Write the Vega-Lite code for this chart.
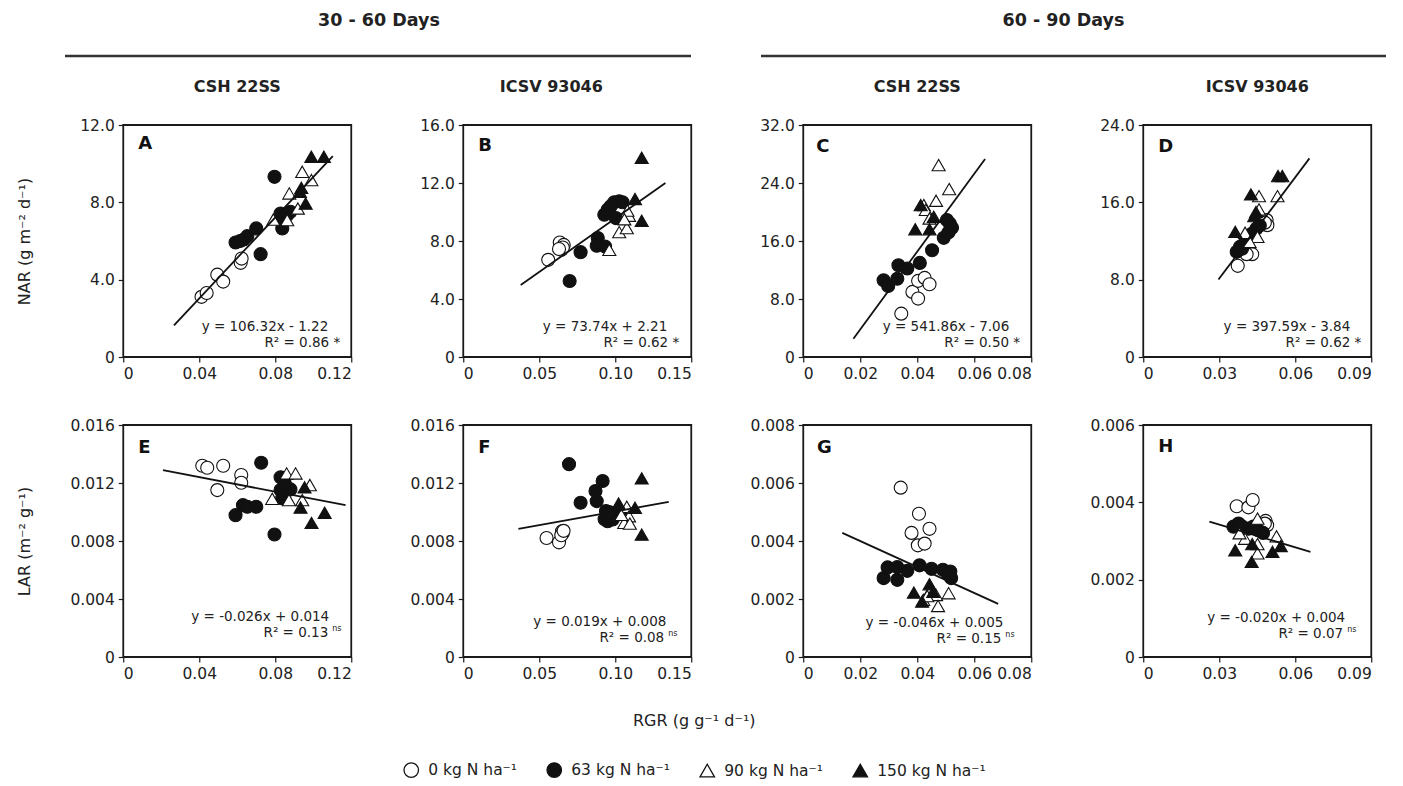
{
"$schema": "https://vega.github.io/schema/vega-lite/v6.json",
"padding": {"left": 15, "top": 12, "right": 5, "bottom": 5},
"config": {
  "font": "DejaVu Sans",
  "view": {"stroke": "#1a1a1a", "strokeWidth": 1.8},
  "axis": {"domain": false, "grid": false, "ticks": true, "tickSize": 5, "tickColor": "#1a1a1a", "tickWidth": 1.2, "labelFont": "DejaVu Sans", "labelFontSize": 15.5, "labelColor": "#222222", "labelPadding": 4, "titleFont": "DejaVu Sans", "titleFontSize": 16, "titleFontWeight": "normal", "titleColor": "#222222"},
  "title": {"font": "DejaVu Sans", "fontSize": 16, "fontWeight": "bold", "color": "#222222", "offset": 23, "anchor": "middle", "frame": "group"},
  "legend": {"orient": "bottom", "direction": "horizontal", "labelFont": "DejaVu Sans", "labelFontSize": 15.5, "labelColor": "#222222", "symbolSize": 210, "symbolStrokeWidth": 1.3, "columnPadding": 27, "labelOffset": 9, "offset": 30, "titleFont": "DejaVu Sans", "titleFontSize": 16, "titleFontWeight": "normal", "titleColor": "#222222", "titleAnchor": "middle", "titlePadding": 33, "titleLimit": 0, "layout": {"bottom": {"anchor": "middle"}}}
},
"datasets": {
  "pts": [
    {"p":"A","rgr":0.0412,"val":3.11,"N":"0 kg N ha⁻¹"},{"p":"A","rgr":0.0439,"val":3.31,"N":"0 kg N ha⁻¹"},{"p":"A","rgr":0.0495,"val":4.26,"N":"0 kg N ha⁻¹"},{"p":"A","rgr":0.0526,"val":3.90,"N":"0 kg N ha⁻¹"},{"p":"A","rgr":0.0618,"val":4.87,"N":"0 kg N ha⁻¹"},{"p":"A","rgr":0.0623,"val":5.09,"N":"0 kg N ha⁻¹"},
    {"p":"A","rgr":0.0796,"val":9.32,"N":"63 kg N ha⁻¹"},{"p":"A","rgr":0.0591,"val":5.92,"N":"63 kg N ha⁻¹"},{"p":"A","rgr":0.0635,"val":6.08,"N":"63 kg N ha⁻¹"},{"p":"A","rgr":0.0653,"val":6.25,"N":"63 kg N ha⁻¹"},{"p":"A","rgr":0.0700,"val":6.65,"N":"63 kg N ha⁻¹"},{"p":"A","rgr":0.0723,"val":5.32,"N":"63 kg N ha⁻¹"},{"p":"A","rgr":0.0828,"val":7.42,"N":"63 kg N ha⁻¹"},{"p":"A","rgr":0.0842,"val":7.17,"N":"63 kg N ha⁻¹"},{"p":"A","rgr":0.0837,"val":6.65,"N":"63 kg N ha⁻¹"},{"p":"A","rgr":0.0863,"val":7.34,"N":"63 kg N ha⁻¹"},{"p":"A","rgr":0.0880,"val":7.51,"N":"63 kg N ha⁻¹"},{"p":"A","rgr":0.0615,"val":6.00,"N":"63 kg N ha⁻¹"},
    {"p":"A","rgr":0.0942,"val":9.58,"N":"90 kg N ha⁻¹"},{"p":"A","rgr":0.0990,"val":9.15,"N":"90 kg N ha⁻¹"},{"p":"A","rgr":0.0874,"val":8.46,"N":"90 kg N ha⁻¹"},{"p":"A","rgr":0.0790,"val":7.11,"N":"90 kg N ha⁻¹"},{"p":"A","rgr":0.0919,"val":7.68,"N":"90 kg N ha⁻¹"},{"p":"A","rgr":0.0863,"val":7.08,"N":"90 kg N ha⁻¹"},
    {"p":"A","rgr":0.0990,"val":10.36,"N":"150 kg N ha⁻¹"},{"p":"A","rgr":0.1056,"val":10.36,"N":"150 kg N ha⁻¹"},{"p":"A","rgr":0.0937,"val":8.75,"N":"150 kg N ha⁻¹"},{"p":"A","rgr":0.0960,"val":7.94,"N":"150 kg N ha⁻¹"},{"p":"A","rgr":0.0930,"val":8.55,"N":"150 kg N ha⁻¹"},

    {"p":"B","rgr":0.0559,"val":6.70,"N":"0 kg N ha⁻¹"},{"p":"B","rgr":0.0635,"val":7.90,"N":"0 kg N ha⁻¹"},{"p":"B","rgr":0.0661,"val":7.73,"N":"0 kg N ha⁻¹"},{"p":"B","rgr":0.0646,"val":7.39,"N":"0 kg N ha⁻¹"},{"p":"B","rgr":0.0655,"val":7.55,"N":"0 kg N ha⁻¹"},{"p":"B","rgr":0.0630,"val":7.45,"N":"0 kg N ha⁻¹"},
    {"p":"B","rgr":0.0700,"val":5.24,"N":"63 kg N ha⁻¹"},{"p":"B","rgr":0.0772,"val":7.23,"N":"63 kg N ha⁻¹"},{"p":"B","rgr":0.0885,"val":8.20,"N":"63 kg N ha⁻¹"},{"p":"B","rgr":0.0878,"val":7.67,"N":"63 kg N ha⁻¹"},{"p":"B","rgr":0.0933,"val":7.62,"N":"63 kg N ha⁻¹"},{"p":"B","rgr":0.0928,"val":9.81,"N":"63 kg N ha⁻¹"},{"p":"B","rgr":0.0950,"val":10.16,"N":"63 kg N ha⁻¹"},{"p":"B","rgr":0.0993,"val":10.67,"N":"63 kg N ha⁻¹"},{"p":"B","rgr":0.1026,"val":10.74,"N":"63 kg N ha⁻¹"},{"p":"B","rgr":0.1048,"val":10.67,"N":"63 kg N ha⁻¹"},{"p":"B","rgr":0.1004,"val":9.58,"N":"63 kg N ha⁻¹"},{"p":"B","rgr":0.0970,"val":10.40,"N":"63 kg N ha⁻¹"},
    {"p":"B","rgr":0.0961,"val":7.39,"N":"90 kg N ha⁻¹"},{"p":"B","rgr":0.1026,"val":8.61,"N":"90 kg N ha⁻¹"},{"p":"B","rgr":0.1076,"val":8.89,"N":"90 kg N ha⁻¹"},{"p":"B","rgr":0.1091,"val":9.74,"N":"90 kg N ha⁻¹"},{"p":"B","rgr":0.1080,"val":10.10,"N":"90 kg N ha⁻¹"},{"p":"B","rgr":0.1060,"val":9.50,"N":"90 kg N ha⁻¹"},
    {"p":"B","rgr":0.1174,"val":13.74,"N":"150 kg N ha⁻¹"},{"p":"B","rgr":0.1130,"val":10.90,"N":"150 kg N ha⁻¹"},{"p":"B","rgr":0.1174,"val":9.40,"N":"150 kg N ha⁻¹"},

    {"p":"C","rgr":0.0344,"val":5.98,"N":"0 kg N ha⁻¹"},{"p":"C","rgr":0.0383,"val":8.98,"N":"0 kg N ha⁻¹"},{"p":"C","rgr":0.0403,"val":8.06,"N":"0 kg N ha⁻¹"},{"p":"C","rgr":0.0403,"val":10.50,"N":"0 kg N ha⁻¹"},{"p":"C","rgr":0.0426,"val":10.91,"N":"0 kg N ha⁻¹"},{"p":"C","rgr":0.0443,"val":10.04,"N":"0 kg N ha⁻¹"},
    {"p":"C","rgr":0.0282,"val":10.59,"N":"63 kg N ha⁻¹"},{"p":"C","rgr":0.0298,"val":9.80,"N":"63 kg N ha⁻¹"},{"p":"C","rgr":0.0330,"val":10.80,"N":"63 kg N ha⁻¹"},{"p":"C","rgr":0.0334,"val":12.66,"N":"63 kg N ha⁻¹"},{"p":"C","rgr":0.0365,"val":12.20,"N":"63 kg N ha⁻¹"},{"p":"C","rgr":0.0409,"val":12.98,"N":"63 kg N ha⁻¹"},{"p":"C","rgr":0.0452,"val":14.73,"N":"63 kg N ha⁻¹"},{"p":"C","rgr":0.0493,"val":16.44,"N":"63 kg N ha⁻¹"},{"p":"C","rgr":0.0514,"val":18.42,"N":"63 kg N ha⁻¹"},{"p":"C","rgr":0.0522,"val":17.82,"N":"63 kg N ha⁻¹"},{"p":"C","rgr":0.0504,"val":18.88,"N":"63 kg N ha⁻¹"},{"p":"C","rgr":0.0510,"val":17.20,"N":"63 kg N ha⁻¹"},
    {"p":"C","rgr":0.0475,"val":26.47,"N":"90 kg N ha⁻¹"},{"p":"C","rgr":0.0512,"val":23.16,"N":"90 kg N ha⁻¹"},{"p":"C","rgr":0.0466,"val":21.55,"N":"90 kg N ha⁻¹"},{"p":"C","rgr":0.0423,"val":20.95,"N":"90 kg N ha⁻¹"},{"p":"C","rgr":0.0430,"val":20.30,"N":"90 kg N ha⁻¹"},{"p":"C","rgr":0.0443,"val":19.10,"N":"90 kg N ha⁻¹"},
    {"p":"C","rgr":0.0412,"val":20.95,"N":"150 kg N ha⁻¹"},{"p":"C","rgr":0.0393,"val":17.63,"N":"150 kg N ha⁻¹"},{"p":"C","rgr":0.0443,"val":17.63,"N":"150 kg N ha⁻¹"},{"p":"C","rgr":0.0458,"val":19.34,"N":"150 kg N ha⁻¹"},

    {"p":"D","rgr":0.0373,"val":9.43,"N":"0 kg N ha⁻¹"},{"p":"D","rgr":0.0430,"val":10.64,"N":"0 kg N ha⁻¹"},{"p":"D","rgr":0.0408,"val":10.64,"N":"0 kg N ha⁻¹"},{"p":"D","rgr":0.0487,"val":14.16,"N":"0 kg N ha⁻¹"},{"p":"D","rgr":0.0490,"val":13.64,"N":"0 kg N ha⁻¹"},{"p":"D","rgr":0.0480,"val":13.90,"N":"0 kg N ha⁻¹"},
    {"p":"D","rgr":0.0369,"val":10.88,"N":"63 kg N ha⁻¹"},{"p":"D","rgr":0.0382,"val":11.40,"N":"63 kg N ha⁻¹"},{"p":"D","rgr":0.0399,"val":11.74,"N":"63 kg N ha⁻¹"},{"p":"D","rgr":0.0415,"val":12.26,"N":"63 kg N ha⁻¹"},{"p":"D","rgr":0.0430,"val":12.78,"N":"63 kg N ha⁻¹"},{"p":"D","rgr":0.0447,"val":13.29,"N":"63 kg N ha⁻¹"},{"p":"D","rgr":0.0460,"val":13.60,"N":"63 kg N ha⁻¹"},{"p":"D","rgr":0.0390,"val":11.20,"N":"63 kg N ha⁻¹"},
    {"p":"D","rgr":0.0457,"val":16.64,"N":"90 kg N ha⁻¹"},{"p":"D","rgr":0.0530,"val":16.64,"N":"90 kg N ha⁻¹"},{"p":"D","rgr":0.0457,"val":15.26,"N":"90 kg N ha⁻¹"},{"p":"D","rgr":0.0402,"val":12.85,"N":"90 kg N ha⁻¹"},{"p":"D","rgr":0.0451,"val":12.43,"N":"90 kg N ha⁻¹"},{"p":"D","rgr":0.0420,"val":11.90,"N":"90 kg N ha⁻¹"},
    {"p":"D","rgr":0.0532,"val":18.72,"N":"150 kg N ha⁻¹"},{"p":"D","rgr":0.0549,"val":18.72,"N":"150 kg N ha⁻¹"},{"p":"D","rgr":0.0425,"val":16.82,"N":"150 kg N ha⁻¹"},{"p":"D","rgr":0.0438,"val":14.57,"N":"150 kg N ha⁻¹"},{"p":"D","rgr":0.0363,"val":12.95,"N":"150 kg N ha⁻¹"},{"p":"D","rgr":0.0445,"val":15.00,"N":"150 kg N ha⁻¹"},

    {"p":"E","rgr":0.0416,"val":0.01319,"N":"0 kg N ha⁻¹"},{"p":"E","rgr":0.0442,"val":0.01305,"N":"0 kg N ha⁻¹"},{"p":"E","rgr":0.0526,"val":0.01319,"N":"0 kg N ha⁻¹"},{"p":"E","rgr":0.0495,"val":0.01151,"N":"0 kg N ha⁻¹"},{"p":"E","rgr":0.0621,"val":0.01255,"N":"0 kg N ha⁻¹"},{"p":"E","rgr":0.0621,"val":0.01202,"N":"0 kg N ha⁻¹"},
    {"p":"E","rgr":0.0726,"val":0.01340,"N":"63 kg N ha⁻¹"},{"p":"E","rgr":0.0591,"val":0.00978,"N":"63 kg N ha⁻¹"},{"p":"E","rgr":0.0630,"val":0.01047,"N":"63 kg N ha⁻¹"},{"p":"E","rgr":0.0653,"val":0.01036,"N":"63 kg N ha⁻¹"},{"p":"E","rgr":0.0700,"val":0.01036,"N":"63 kg N ha⁻¹"},{"p":"E","rgr":0.0796,"val":0.00845,"N":"63 kg N ha⁻¹"},{"p":"E","rgr":0.0828,"val":0.01239,"N":"63 kg N ha⁻¹"},{"p":"E","rgr":0.0828,"val":0.01151,"N":"63 kg N ha⁻¹"},{"p":"E","rgr":0.0837,"val":0.01094,"N":"63 kg N ha⁻¹"},{"p":"E","rgr":0.0880,"val":0.01156,"N":"63 kg N ha⁻¹"},{"p":"E","rgr":0.0850,"val":0.01200,"N":"63 kg N ha⁻¹"},
    {"p":"E","rgr":0.0860,"val":0.01266,"N":"90 kg N ha⁻¹"},{"p":"E","rgr":0.0907,"val":0.01266,"N":"90 kg N ha⁻¹"},{"p":"E","rgr":0.0784,"val":0.01091,"N":"90 kg N ha⁻¹"},{"p":"E","rgr":0.0872,"val":0.01082,"N":"90 kg N ha⁻¹"},{"p":"E","rgr":0.0942,"val":0.01082,"N":"90 kg N ha⁻¹"},{"p":"E","rgr":0.0982,"val":0.01186,"N":"90 kg N ha⁻¹"},
    {"p":"E","rgr":0.0954,"val":0.01170,"N":"150 kg N ha⁻¹"},{"p":"E","rgr":0.1060,"val":0.00995,"N":"150 kg N ha⁻¹"},{"p":"E","rgr":0.0991,"val":0.00925,"N":"150 kg N ha⁻¹"},{"p":"E","rgr":0.0933,"val":0.01031,"N":"150 kg N ha⁻¹"},

    {"p":"F","rgr":0.0548,"val":0.00821,"N":"0 kg N ha⁻¹"},{"p":"F","rgr":0.0630,"val":0.00791,"N":"0 kg N ha⁻¹"},{"p":"F","rgr":0.0650,"val":0.00867,"N":"0 kg N ha⁻¹"},{"p":"F","rgr":0.0655,"val":0.00855,"N":"0 kg N ha⁻¹"},{"p":"F","rgr":0.0645,"val":0.00840,"N":"0 kg N ha⁻¹"},{"p":"F","rgr":0.0660,"val":0.00870,"N":"0 kg N ha⁻¹"},
    {"p":"F","rgr":0.0696,"val":0.01330,"N":"63 kg N ha⁻¹"},{"p":"F","rgr":0.0772,"val":0.01064,"N":"63 kg N ha⁻¹"},{"p":"F","rgr":0.0870,"val":0.01145,"N":"63 kg N ha⁻¹"},{"p":"F","rgr":0.0878,"val":0.01075,"N":"63 kg N ha⁻¹"},{"p":"F","rgr":0.0917,"val":0.01214,"N":"63 kg N ha⁻¹"},{"p":"F","rgr":0.0939,"val":0.01006,"N":"63 kg N ha⁻¹"},{"p":"F","rgr":0.0950,"val":0.00936,"N":"63 kg N ha⁻¹"},{"p":"F","rgr":0.0983,"val":0.00948,"N":"63 kg N ha⁻¹"},{"p":"F","rgr":0.1015,"val":0.00983,"N":"63 kg N ha⁻¹"},{"p":"F","rgr":0.1048,"val":0.00994,"N":"63 kg N ha⁻¹"},{"p":"F","rgr":0.0930,"val":0.00950,"N":"63 kg N ha⁻¹"},{"p":"F","rgr":0.0960,"val":0.01000,"N":"63 kg N ha⁻¹"},
    {"p":"F","rgr":0.1076,"val":0.01036,"N":"90 kg N ha⁻¹"},{"p":"F","rgr":0.1091,"val":0.00971,"N":"90 kg N ha⁻¹"},{"p":"F","rgr":0.1059,"val":0.00925,"N":"90 kg N ha⁻¹"},{"p":"F","rgr":0.1096,"val":0.00920,"N":"90 kg N ha⁻¹"},{"p":"F","rgr":0.1040,"val":0.00980,"N":"90 kg N ha⁻¹"},
    {"p":"F","rgr":0.1174,"val":0.01232,"N":"150 kg N ha⁻¹"},{"p":"F","rgr":0.1022,"val":0.01059,"N":"150 kg N ha⁻¹"},{"p":"F","rgr":0.1130,"val":0.01029,"N":"150 kg N ha⁻¹"},{"p":"F","rgr":0.1174,"val":0.00844,"N":"150 kg N ha⁻¹"},

    {"p":"G","rgr":0.0342,"val":0.00584,"N":"0 kg N ha⁻¹"},{"p":"G","rgr":0.0406,"val":0.00494,"N":"0 kg N ha⁻¹"},{"p":"G","rgr":0.0380,"val":0.00428,"N":"0 kg N ha⁻¹"},{"p":"G","rgr":0.0443,"val":0.00442,"N":"0 kg N ha⁻¹"},{"p":"G","rgr":0.0402,"val":0.00385,"N":"0 kg N ha⁻¹"},{"p":"G","rgr":0.0426,"val":0.00391,"N":"0 kg N ha⁻¹"},
    {"p":"G","rgr":0.0282,"val":0.00272,"N":"63 kg N ha⁻¹"},{"p":"G","rgr":0.0296,"val":0.00309,"N":"63 kg N ha⁻¹"},{"p":"G","rgr":0.0330,"val":0.00266,"N":"63 kg N ha⁻¹"},{"p":"G","rgr":0.0330,"val":0.00310,"N":"63 kg N ha⁻¹"},{"p":"G","rgr":0.0365,"val":0.00297,"N":"63 kg N ha⁻¹"},{"p":"G","rgr":0.0408,"val":0.00316,"N":"63 kg N ha⁻¹"},{"p":"G","rgr":0.0450,"val":0.00304,"N":"63 kg N ha⁻¹"},{"p":"G","rgr":0.0490,"val":0.00301,"N":"63 kg N ha⁻¹"},{"p":"G","rgr":0.0516,"val":0.00295,"N":"63 kg N ha⁻¹"},{"p":"G","rgr":0.0519,"val":0.00272,"N":"63 kg N ha⁻¹"},{"p":"G","rgr":0.0508,"val":0.00285,"N":"63 kg N ha⁻¹"},
    {"p":"G","rgr":0.0421,"val":0.00197,"N":"90 kg N ha⁻¹"},{"p":"G","rgr":0.0446,"val":0.00231,"N":"90 kg N ha⁻¹"},{"p":"G","rgr":0.0466,"val":0.00214,"N":"90 kg N ha⁻¹"},{"p":"G","rgr":0.0473,"val":0.00176,"N":"90 kg N ha⁻¹"},{"p":"G","rgr":0.0510,"val":0.00220,"N":"90 kg N ha⁻¹"},{"p":"G","rgr":0.0435,"val":0.00210,"N":"90 kg N ha⁻¹"},
    {"p":"G","rgr":0.0388,"val":0.00222,"N":"150 kg N ha⁻¹"},{"p":"G","rgr":0.0443,"val":0.00251,"N":"150 kg N ha⁻¹"},{"p":"G","rgr":0.0417,"val":0.00191,"N":"150 kg N ha⁻¹"},{"p":"G","rgr":0.0456,"val":0.00225,"N":"150 kg N ha⁻¹"},

    {"p":"H","rgr":0.0369,"val":0.00390,"N":"0 kg N ha⁻¹"},{"p":"H","rgr":0.0415,"val":0.00387,"N":"0 kg N ha⁻¹"},{"p":"H","rgr":0.0432,"val":0.00406,"N":"0 kg N ha⁻¹"},{"p":"H","rgr":0.0483,"val":0.00352,"N":"0 kg N ha⁻¹"},{"p":"H","rgr":0.0489,"val":0.00341,"N":"0 kg N ha⁻¹"},{"p":"H","rgr":0.0480,"val":0.00345,"N":"0 kg N ha⁻¹"},
    {"p":"H","rgr":0.0356,"val":0.00337,"N":"63 kg N ha⁻¹"},{"p":"H","rgr":0.0376,"val":0.00345,"N":"63 kg N ha⁻¹"},{"p":"H","rgr":0.0395,"val":0.00335,"N":"63 kg N ha⁻¹"},{"p":"H","rgr":0.0415,"val":0.00332,"N":"63 kg N ha⁻¹"},{"p":"H","rgr":0.0434,"val":0.00337,"N":"63 kg N ha⁻¹"},{"p":"H","rgr":0.0454,"val":0.00328,"N":"63 kg N ha⁻¹"},{"p":"H","rgr":0.0473,"val":0.00321,"N":"63 kg N ha⁻¹"},{"p":"H","rgr":0.0385,"val":0.00340,"N":"63 kg N ha⁻¹"},
    {"p":"H","rgr":0.0451,"val":0.00358,"N":"90 kg N ha⁻¹"},{"p":"H","rgr":0.0402,"val":0.00306,"N":"90 kg N ha⁻¹"},{"p":"H","rgr":0.0451,"val":0.00292,"N":"90 kg N ha⁻¹"},{"p":"H","rgr":0.0451,"val":0.00268,"N":"90 kg N ha⁻¹"},{"p":"H","rgr":0.0526,"val":0.00312,"N":"90 kg N ha⁻¹"},{"p":"H","rgr":0.0380,"val":0.00320,"N":"90 kg N ha⁻¹"},
    {"p":"H","rgr":0.0363,"val":0.00276,"N":"150 kg N ha⁻¹"},{"p":"H","rgr":0.0430,"val":0.00292,"N":"150 kg N ha⁻¹"},{"p":"H","rgr":0.0428,"val":0.00246,"N":"150 kg N ha⁻¹"},{"p":"H","rgr":0.0510,"val":0.00272,"N":"150 kg N ha⁻¹"},{"p":"H","rgr":0.0543,"val":0.00287,"N":"150 kg N ha⁻¹"}
  ],
  "fits": [
    {"p":"A","rgr":0.0267,"val":1.64},{"p":"A","rgr":0.1103,"val":10.39},
    {"p":"B","rgr":0.0378,"val":4.96},{"p":"B","rgr":0.1330,"val":12.0},
    {"p":"C","rgr":0.0176,"val":2.53},{"p":"C","rgr":0.0638,"val":27.3},
    {"p":"D","rgr":0.0297,"val":8.01},{"p":"D","rgr":0.0656,"val":20.55},
    {"p":"E","rgr":0.0209,"val":0.01289},{"p":"E","rgr":0.1170,"val":0.01047},
    {"p":"F","rgr":0.0363,"val":0.00883},{"p":"F","rgr":0.1352,"val":0.0107},
    {"p":"G","rgr":0.0137,"val":0.00428},{"p":"G","rgr":0.0684,"val":0.00183},
    {"p":"H","rgr":0.0261,"val":0.0035},{"p":"H","rgr":0.0660,"val":0.00272}
  ],
  "ann": [
    {"p":"A","letter":"A","eq":"y = 106.32x - 1.22","r2":"R² = 0.86 *"},
    {"p":"B","letter":"B","eq":"y = 73.74x + 2.21","r2":"R² = 0.62 *"},
    {"p":"C","letter":"C","eq":"y = 541.86x - 7.06","r2":"R² = 0.50 *"},
    {"p":"D","letter":"D","eq":"y = 397.59x - 3.84","r2":"R² = 0.62 *"},
    {"p":"E","letter":"E","eq":"y = -0.026x + 0.014","r2":"R² = 0.13","sig":"ns"},
    {"p":"F","letter":"F","eq":"y = 0.019x + 0.008","r2":"R² = 0.08","sig":"ns"},
    {"p":"G","letter":"G","eq":"y = -0.046x + 0.005","r2":"R² = 0.15","sig":"ns"},
    {"p":"H","letter":"H","eq":"y = -0.020x + 0.004","r2":"R² = 0.07","sig":"ns"}
  ]
},
"center": true,
"spacing": 20,
"resolve": {"legend": {"shape": "independent", "fill": "independent", "stroke": "independent"}},
"vconcat": [
  {
    "hconcat": [
      {"width": 626, "height": 2, "view": {"stroke": null}, "title": {"text": "30 - 60 Days", "fontSize": 17.5, "offset": 25, "dx": 1},
       "data": {"values": [{}]}, "mark": {"type": "rule", "color": "#333333", "strokeWidth": 2.5},
       "encoding": {"y": {"datum": 1, "type": "quantitative", "scale": {"domain": [0, 1]}, "axis": null}}},
      {"width": 70, "height": 2, "view": {"stroke": null},
       "data": {"values": []}, "mark": {"type": "rule", "opacity": 0}, "encoding": {}},
      {"width": 625, "height": 2, "view": {"stroke": null}, "title": {"text": "60 - 90 Days", "fontSize": 17.5, "offset": 25, "dx": -10},
       "data": {"values": [{}]}, "mark": {"type": "rule", "color": "#333333", "strokeWidth": 2.5},
       "encoding": {"y": {"datum": 1, "type": "quantitative", "scale": {"domain": [0, 1]}, "axis": null}}},
      {"width": 45, "height": 2, "view": {"stroke": null},
       "data": {"values": []}, "mark": {"type": "rule", "opacity": 0}, "encoding": {}}
    ],
    "spacing": 0,
    "bounds": "flush"
  },
  {
    "columns": 4,
    "spacing": {"row": 68, "column": 112},
    "bounds": "flush",
    "concat": [
      {"width": 228, "height": 232, "title": {"text": "CSH 22SS"},
       "layer": [
         {"data": {"name": "pts"}, "transform": [{"filter": "datum.p == 'A'"}],
          "mark": {"type": "point", "filled": true, "size": 170, "strokeWidth": 1.1, "opacity": 1},
          "encoding": {
            "x": {"field": "rgr", "type": "quantitative", "scale": {"domain": [0, 0.12], "nice": false}, "axis": {"values": [0, 0.04, 0.08, 0.12], "labelExpr": "datum.value == 0 ? '0' : format(datum.value, '.2f')", "title": null}},
            "y": {"field": "val", "type": "quantitative", "scale": {"domain": [0, 12], "nice": false}, "axis": {"values": [0, 4, 8, 12], "labelExpr": "datum.value == 0 ? '0' : format(datum.value, '.1f')", "title": "NAR (g m⁻² d⁻¹)", "titlePadding": 47}},
            "shape": {"field": "N", "type": "nominal", "title": "RGR (g g⁻¹ d⁻¹)", "scale": {"domain": ["0 kg N ha⁻¹", "63 kg N ha⁻¹", "90 kg N ha⁻¹", "150 kg N ha⁻¹"], "range": ["circle", "circle", "triangle-up", "triangle-up"]}},
            "fill": {"field": "N", "type": "nominal", "title": "RGR (g g⁻¹ d⁻¹)", "scale": {"domain": ["0 kg N ha⁻¹", "63 kg N ha⁻¹", "90 kg N ha⁻¹", "150 kg N ha⁻¹"], "range": ["#ffffff", "#111111", "#ffffff", "#111111"]}},
            "stroke": {"field": "N", "type": "nominal", "title": "RGR (g g⁻¹ d⁻¹)", "scale": {"domain": ["0 kg N ha⁻¹", "63 kg N ha⁻¹", "90 kg N ha⁻¹", "150 kg N ha⁻¹"], "range": ["#111111", "#111111", "#111111", "#111111"]}}
          }},
         {"data": {"name": "fits"}, "transform": [{"filter": "datum.p == 'A'"}], "mark": {"type": "line", "color": "#111111", "strokeWidth": 1.8},
          "encoding": {"x": {"field": "rgr", "type": "quantitative"}, "y": {"field": "val", "type": "quantitative"}}},
         {"data": {"name": "ann"}, "transform": [{"filter": "datum.p == 'A'"}], "mark": {"type": "text", "align": "left", "baseline": "middle", "fontWeight": "bold", "fontSize": 18, "color": "#111111"},
          "encoding": {"x": {"datum": 0.0079}, "y": {"datum": 11.02}, "text": {"field": "letter"}}},
         {"data": {"name": "ann"}, "transform": [{"filter": "datum.p == 'A'"}], "mark": {"type": "text", "align": "right", "baseline": "middle", "fontSize": 13.5, "color": "#222222"},
          "encoding": {"x": {"datum": 0.1079}, "y": {"datum": 1.55}, "text": {"field": "eq"}}},
         {"data": {"name": "ann"}, "transform": [{"filter": "datum.p == 'A'"}], "mark": {"type": "text", "align": "right", "baseline": "middle", "fontSize": 13.5, "color": "#222222"},
          "encoding": {"x": {"datum": 0.1142}, "y": {"datum": 0.72}, "text": {"field": "r2"}}}
       ]},
      {"width": 228, "height": 232, "title": {"text": "ICSV 93046", "dx": -26},
       "layer": [
         {"data": {"name": "pts"}, "transform": [{"filter": "datum.p == 'B'"}],
          "mark": {"type": "point", "filled": true, "size": 170, "strokeWidth": 1.1, "opacity": 1},
          "encoding": {
            "x": {"field": "rgr", "type": "quantitative", "scale": {"domain": [0, 0.15], "nice": false}, "axis": {"values": [0, 0.05, 0.1, 0.15], "labelExpr": "datum.value == 0 ? '0' : format(datum.value, '.2f')", "title": null}},
            "y": {"field": "val", "type": "quantitative", "scale": {"domain": [0, 16], "nice": false}, "axis": {"values": [0, 4, 8, 12, 16], "labelExpr": "datum.value == 0 ? '0' : format(datum.value, '.1f')", "title": null}},
            "shape": {"field": "N", "type": "nominal", "title": "RGR (g g⁻¹ d⁻¹)", "scale": {"domain": ["0 kg N ha⁻¹", "63 kg N ha⁻¹", "90 kg N ha⁻¹", "150 kg N ha⁻¹"], "range": ["circle", "circle", "triangle-up", "triangle-up"]}},
            "fill": {"field": "N", "type": "nominal", "title": "RGR (g g⁻¹ d⁻¹)", "scale": {"domain": ["0 kg N ha⁻¹", "63 kg N ha⁻¹", "90 kg N ha⁻¹", "150 kg N ha⁻¹"], "range": ["#ffffff", "#111111", "#ffffff", "#111111"]}},
            "stroke": {"field": "N", "type": "nominal", "title": "RGR (g g⁻¹ d⁻¹)", "scale": {"domain": ["0 kg N ha⁻¹", "63 kg N ha⁻¹", "90 kg N ha⁻¹", "150 kg N ha⁻¹"], "range": ["#111111", "#111111", "#111111", "#111111"]}}
          }},
         {"data": {"name": "fits"}, "transform": [{"filter": "datum.p == 'B'"}], "mark": {"type": "line", "color": "#111111", "strokeWidth": 1.8},
          "encoding": {"x": {"field": "rgr", "type": "quantitative"}, "y": {"field": "val", "type": "quantitative"}}},
         {"data": {"name": "ann"}, "transform": [{"filter": "datum.p == 'B'"}], "mark": {"type": "text", "align": "left", "baseline": "middle", "fontWeight": "bold", "fontSize": 18, "color": "#111111"},
          "encoding": {"x": {"datum": 0.00987}, "y": {"datum": 14.55}, "text": {"field": "letter"}}},
         {"data": {"name": "ann"}, "transform": [{"filter": "datum.p == 'B'"}], "mark": {"type": "text", "align": "right", "baseline": "middle", "fontSize": 13.5, "color": "#222222"},
          "encoding": {"x": {"datum": 0.1342}, "y": {"datum": 2.07}, "text": {"field": "eq"}}},
         {"data": {"name": "ann"}, "transform": [{"filter": "datum.p == 'B'"}], "mark": {"type": "text", "align": "right", "baseline": "middle", "fontSize": 13.5, "color": "#222222"},
          "encoding": {"x": {"datum": 0.1421}, "y": {"datum": 0.97}, "text": {"field": "r2"}}}
       ]},
      {"width": 228, "height": 232, "title": {"text": "CSH 22SS"},
       "layer": [
         {"data": {"name": "pts"}, "transform": [{"filter": "datum.p == 'C'"}],
          "mark": {"type": "point", "filled": true, "size": 170, "strokeWidth": 1.1, "opacity": 1},
          "encoding": {
            "x": {"field": "rgr", "type": "quantitative", "scale": {"domain": [0, 0.08], "nice": false}, "axis": {"values": [0, 0.02, 0.04, 0.06, 0.08], "labelExpr": "datum.value == 0 ? '0' : format(datum.value, '.2f')", "title": null}},
            "y": {"field": "val", "type": "quantitative", "scale": {"domain": [0, 32], "nice": false}, "axis": {"values": [0, 8, 16, 24, 32], "labelExpr": "datum.value == 0 ? '0' : format(datum.value, '.1f')", "title": null}},
            "shape": {"field": "N", "type": "nominal", "title": "RGR (g g⁻¹ d⁻¹)", "scale": {"domain": ["0 kg N ha⁻¹", "63 kg N ha⁻¹", "90 kg N ha⁻¹", "150 kg N ha⁻¹"], "range": ["circle", "circle", "triangle-up", "triangle-up"]}},
            "fill": {"field": "N", "type": "nominal", "title": "RGR (g g⁻¹ d⁻¹)", "scale": {"domain": ["0 kg N ha⁻¹", "63 kg N ha⁻¹", "90 kg N ha⁻¹", "150 kg N ha⁻¹"], "range": ["#ffffff", "#111111", "#ffffff", "#111111"]}},
            "stroke": {"field": "N", "type": "nominal", "title": "RGR (g g⁻¹ d⁻¹)", "scale": {"domain": ["0 kg N ha⁻¹", "63 kg N ha⁻¹", "90 kg N ha⁻¹", "150 kg N ha⁻¹"], "range": ["#111111", "#111111", "#111111", "#111111"]}}
          }},
         {"data": {"name": "fits"}, "transform": [{"filter": "datum.p == 'C'"}], "mark": {"type": "line", "color": "#111111", "strokeWidth": 1.8},
          "encoding": {"x": {"field": "rgr", "type": "quantitative"}, "y": {"field": "val", "type": "quantitative"}}},
         {"data": {"name": "ann"}, "transform": [{"filter": "datum.p == 'C'"}], "mark": {"type": "text", "align": "left", "baseline": "middle", "fontWeight": "bold", "fontSize": 18, "color": "#111111"},
          "encoding": {"x": {"datum": 0.00456}, "y": {"datum": 28.97}, "text": {"field": "letter"}}},
         {"data": {"name": "ann"}, "transform": [{"filter": "datum.p == 'C'"}], "mark": {"type": "text", "align": "right", "baseline": "middle", "fontSize": 13.5, "color": "#222222"},
          "encoding": {"x": {"datum": 0.0723}, "y": {"datum": 4.14}, "text": {"field": "eq"}}},
         {"data": {"name": "ann"}, "transform": [{"filter": "datum.p == 'C'"}], "mark": {"type": "text", "align": "right", "baseline": "middle", "fontSize": 13.5, "color": "#222222"},
          "encoding": {"x": {"datum": 0.0761}, "y": {"datum": 1.93}, "text": {"field": "r2"}}}
       ]},
      {"width": 228, "height": 232, "title": {"text": "ICSV 93046"},
       "layer": [
         {"data": {"name": "pts"}, "transform": [{"filter": "datum.p == 'D'"}],
          "mark": {"type": "point", "filled": true, "size": 170, "strokeWidth": 1.1, "opacity": 1},
          "encoding": {
            "x": {"field": "rgr", "type": "quantitative", "scale": {"domain": [0, 0.09], "nice": false}, "axis": {"values": [0, 0.03, 0.06, 0.09], "labelExpr": "datum.value == 0 ? '0' : format(datum.value, '.2f')", "title": null}},
            "y": {"field": "val", "type": "quantitative", "scale": {"domain": [0, 24], "nice": false}, "axis": {"values": [0, 8, 16, 24], "labelExpr": "datum.value == 0 ? '0' : format(datum.value, '.1f')", "title": null}},
            "shape": {"field": "N", "type": "nominal", "title": "RGR (g g⁻¹ d⁻¹)", "scale": {"domain": ["0 kg N ha⁻¹", "63 kg N ha⁻¹", "90 kg N ha⁻¹", "150 kg N ha⁻¹"], "range": ["circle", "circle", "triangle-up", "triangle-up"]}},
            "fill": {"field": "N", "type": "nominal", "title": "RGR (g g⁻¹ d⁻¹)", "scale": {"domain": ["0 kg N ha⁻¹", "63 kg N ha⁻¹", "90 kg N ha⁻¹", "150 kg N ha⁻¹"], "range": ["#ffffff", "#111111", "#ffffff", "#111111"]}},
            "stroke": {"field": "N", "type": "nominal", "title": "RGR (g g⁻¹ d⁻¹)", "scale": {"domain": ["0 kg N ha⁻¹", "63 kg N ha⁻¹", "90 kg N ha⁻¹", "150 kg N ha⁻¹"], "range": ["#111111", "#111111", "#111111", "#111111"]}}
          }},
         {"data": {"name": "fits"}, "transform": [{"filter": "datum.p == 'D'"}], "mark": {"type": "line", "color": "#111111", "strokeWidth": 1.8},
          "encoding": {"x": {"field": "rgr", "type": "quantitative"}, "y": {"field": "val", "type": "quantitative"}}},
         {"data": {"name": "ann"}, "transform": [{"filter": "datum.p == 'D'"}], "mark": {"type": "text", "align": "left", "baseline": "middle", "fontWeight": "bold", "fontSize": 18, "color": "#111111"},
          "encoding": {"x": {"datum": 0.0059}, "y": {"datum": 21.72}, "text": {"field": "letter"}}},
         {"data": {"name": "ann"}, "transform": [{"filter": "datum.p == 'D'"}], "mark": {"type": "text", "align": "right", "baseline": "middle", "fontSize": 13.5, "color": "#222222"},
          "encoding": {"x": {"datum": 0.0817}, "y": {"datum": 3.1}, "text": {"field": "eq"}}},
         {"data": {"name": "ann"}, "transform": [{"filter": "datum.p == 'D'"}], "mark": {"type": "text", "align": "right", "baseline": "middle", "fontSize": 13.5, "color": "#222222"},
          "encoding": {"x": {"datum": 0.0861}, "y": {"datum": 1.45}, "text": {"field": "r2"}}}
       ]},
      {"width": 228, "height": 232,
       "layer": [
         {"data": {"name": "pts"}, "transform": [{"filter": "datum.p == 'E'"}],
          "mark": {"type": "point", "filled": true, "size": 170, "strokeWidth": 1.1, "opacity": 1},
          "encoding": {
            "x": {"field": "rgr", "type": "quantitative", "scale": {"domain": [0, 0.12], "nice": false}, "axis": {"values": [0, 0.04, 0.08, 0.12], "labelExpr": "datum.value == 0 ? '0' : format(datum.value, '.2f')", "title": null}},
            "y": {"field": "val", "type": "quantitative", "scale": {"domain": [0, 0.016], "nice": false}, "axis": {"values": [0, 0.004, 0.008, 0.012, 0.016], "labelExpr": "datum.value == 0 ? '0' : format(datum.value, '.3f')", "title": "LAR (m⁻² g⁻¹)", "titlePadding": 37}},
            "shape": {"field": "N", "type": "nominal", "title": "RGR (g g⁻¹ d⁻¹)", "scale": {"domain": ["0 kg N ha⁻¹", "63 kg N ha⁻¹", "90 kg N ha⁻¹", "150 kg N ha⁻¹"], "range": ["circle", "circle", "triangle-up", "triangle-up"]}},
            "fill": {"field": "N", "type": "nominal", "title": "RGR (g g⁻¹ d⁻¹)", "scale": {"domain": ["0 kg N ha⁻¹", "63 kg N ha⁻¹", "90 kg N ha⁻¹", "150 kg N ha⁻¹"], "range": ["#ffffff", "#111111", "#ffffff", "#111111"]}},
            "stroke": {"field": "N", "type": "nominal", "title": "RGR (g g⁻¹ d⁻¹)", "scale": {"domain": ["0 kg N ha⁻¹", "63 kg N ha⁻¹", "90 kg N ha⁻¹", "150 kg N ha⁻¹"], "range": ["#111111", "#111111", "#111111", "#111111"]}}
          }},
         {"data": {"name": "fits"}, "transform": [{"filter": "datum.p == 'E'"}], "mark": {"type": "line", "color": "#111111", "strokeWidth": 1.8},
          "encoding": {"x": {"field": "rgr", "type": "quantitative"}, "y": {"field": "val", "type": "quantitative"}}},
         {"data": {"name": "ann"}, "transform": [{"filter": "datum.p == 'E'"}], "mark": {"type": "text", "align": "left", "baseline": "middle", "fontWeight": "bold", "fontSize": 18, "color": "#111111"},
          "encoding": {"x": {"datum": 0.0079}, "y": {"datum": 0.01441}, "text": {"field": "letter"}}},
         {"data": {"name": "ann"}, "transform": [{"filter": "datum.p == 'E'"}], "mark": {"type": "text", "align": "right", "baseline": "middle", "fontSize": 13.5, "color": "#222222"},
          "encoding": {"x": {"datum": 0.1084}, "y": {"datum": 0.00276}, "text": {"field": "eq"}}},
         {"data": {"name": "ann"}, "transform": [{"filter": "datum.p == 'E'"}], "mark": {"type": "text", "align": "right", "baseline": "middle", "fontSize": 13.5, "color": "#222222"},
          "encoding": {"x": {"datum": 0.1079}, "y": {"datum": 0.00166}, "text": {"field": "r2"}}},
         {"data": {"name": "ann"}, "transform": [{"filter": "datum.p == 'E'"}], "mark": {"type": "text", "align": "left", "baseline": "middle", "fontSize": 8, "dx": 4, "dy": -4, "color": "#222222"},
          "encoding": {"x": {"datum": 0.1079}, "y": {"datum": 0.00166}, "text": {"field": "sig"}}}
       ]},
      {"width": 228, "height": 232,
       "layer": [
         {"data": {"name": "pts"}, "transform": [{"filter": "datum.p == 'F'"}],
          "mark": {"type": "point", "filled": true, "size": 170, "strokeWidth": 1.1, "opacity": 1},
          "encoding": {
            "x": {"field": "rgr", "type": "quantitative", "scale": {"domain": [0, 0.15], "nice": false}, "axis": {"values": [0, 0.05, 0.1, 0.15], "labelExpr": "datum.value == 0 ? '0' : format(datum.value, '.2f')", "title": null}},
            "y": {"field": "val", "type": "quantitative", "scale": {"domain": [0, 0.016], "nice": false}, "axis": {"values": [0, 0.004, 0.008, 0.012, 0.016], "labelExpr": "datum.value == 0 ? '0' : format(datum.value, '.3f')", "title": null}},
            "shape": {"field": "N", "type": "nominal", "title": "RGR (g g⁻¹ d⁻¹)", "scale": {"domain": ["0 kg N ha⁻¹", "63 kg N ha⁻¹", "90 kg N ha⁻¹", "150 kg N ha⁻¹"], "range": ["circle", "circle", "triangle-up", "triangle-up"]}},
            "fill": {"field": "N", "type": "nominal", "title": "RGR (g g⁻¹ d⁻¹)", "scale": {"domain": ["0 kg N ha⁻¹", "63 kg N ha⁻¹", "90 kg N ha⁻¹", "150 kg N ha⁻¹"], "range": ["#ffffff", "#111111", "#ffffff", "#111111"]}},
            "stroke": {"field": "N", "type": "nominal", "title": "RGR (g g⁻¹ d⁻¹)", "scale": {"domain": ["0 kg N ha⁻¹", "63 kg N ha⁻¹", "90 kg N ha⁻¹", "150 kg N ha⁻¹"], "range": ["#111111", "#111111", "#111111", "#111111"]}}
          }},
         {"data": {"name": "fits"}, "transform": [{"filter": "datum.p == 'F'"}], "mark": {"type": "line", "color": "#111111", "strokeWidth": 1.8},
          "encoding": {"x": {"field": "rgr", "type": "quantitative"}, "y": {"field": "val", "type": "quantitative"}}},
         {"data": {"name": "ann"}, "transform": [{"filter": "datum.p == 'F'"}], "mark": {"type": "text", "align": "left", "baseline": "middle", "fontWeight": "bold", "fontSize": 18, "color": "#111111"},
          "encoding": {"x": {"datum": 0.00987}, "y": {"datum": 0.01441}, "text": {"field": "letter"}}},
         {"data": {"name": "ann"}, "transform": [{"filter": "datum.p == 'F'"}], "mark": {"type": "text", "align": "right", "baseline": "middle", "fontSize": 13.5, "color": "#222222"},
          "encoding": {"x": {"datum": 0.1336}, "y": {"datum": 0.00241}, "text": {"field": "eq"}}},
         {"data": {"name": "ann"}, "transform": [{"filter": "datum.p == 'F'"}], "mark": {"type": "text", "align": "right", "baseline": "middle", "fontSize": 13.5, "color": "#222222"},
          "encoding": {"x": {"datum": 0.1322}, "y": {"datum": 0.00131}, "text": {"field": "r2"}}},
         {"data": {"name": "ann"}, "transform": [{"filter": "datum.p == 'F'"}], "mark": {"type": "text", "align": "left", "baseline": "middle", "fontSize": 8, "dx": 4, "dy": -4, "color": "#222222"},
          "encoding": {"x": {"datum": 0.1322}, "y": {"datum": 0.00131}, "text": {"field": "sig"}}}
       ]},
      {"width": 228, "height": 232,
       "layer": [
         {"data": {"name": "pts"}, "transform": [{"filter": "datum.p == 'G'"}],
          "mark": {"type": "point", "filled": true, "size": 170, "strokeWidth": 1.1, "opacity": 1},
          "encoding": {
            "x": {"field": "rgr", "type": "quantitative", "scale": {"domain": [0, 0.08], "nice": false}, "axis": {"values": [0, 0.02, 0.04, 0.06, 0.08], "labelExpr": "datum.value == 0 ? '0' : format(datum.value, '.2f')", "title": null}},
            "y": {"field": "val", "type": "quantitative", "scale": {"domain": [0, 0.008], "nice": false}, "axis": {"values": [0, 0.002, 0.004, 0.006, 0.008], "labelExpr": "datum.value == 0 ? '0' : format(datum.value, '.3f')", "title": null}},
            "shape": {"field": "N", "type": "nominal", "title": "RGR (g g⁻¹ d⁻¹)", "scale": {"domain": ["0 kg N ha⁻¹", "63 kg N ha⁻¹", "90 kg N ha⁻¹", "150 kg N ha⁻¹"], "range": ["circle", "circle", "triangle-up", "triangle-up"]}},
            "fill": {"field": "N", "type": "nominal", "title": "RGR (g g⁻¹ d⁻¹)", "scale": {"domain": ["0 kg N ha⁻¹", "63 kg N ha⁻¹", "90 kg N ha⁻¹", "150 kg N ha⁻¹"], "range": ["#ffffff", "#111111", "#ffffff", "#111111"]}},
            "stroke": {"field": "N", "type": "nominal", "title": "RGR (g g⁻¹ d⁻¹)", "scale": {"domain": ["0 kg N ha⁻¹", "63 kg N ha⁻¹", "90 kg N ha⁻¹", "150 kg N ha⁻¹"], "range": ["#111111", "#111111", "#111111", "#111111"]}}
          }},
         {"data": {"name": "fits"}, "transform": [{"filter": "datum.p == 'G'"}], "mark": {"type": "line", "color": "#111111", "strokeWidth": 1.8},
          "encoding": {"x": {"field": "rgr", "type": "quantitative"}, "y": {"field": "val", "type": "quantitative"}}},
         {"data": {"name": "ann"}, "transform": [{"filter": "datum.p == 'G'"}], "mark": {"type": "text", "align": "left", "baseline": "middle", "fontWeight": "bold", "fontSize": 18, "color": "#111111"},
          "encoding": {"x": {"datum": 0.0048}, "y": {"datum": 0.00721}, "text": {"field": "letter"}}},
         {"data": {"name": "ann"}, "transform": [{"filter": "datum.p == 'G'"}], "mark": {"type": "text", "align": "right", "baseline": "middle", "fontSize": 13.5, "color": "#222222"},
          "encoding": {"x": {"datum": 0.0702}, "y": {"datum": 0.00117}, "text": {"field": "eq"}}},
         {"data": {"name": "ann"}, "transform": [{"filter": "datum.p == 'G'"}], "mark": {"type": "text", "align": "right", "baseline": "middle", "fontSize": 13.5, "color": "#222222"},
          "encoding": {"x": {"datum": 0.0695}, "y": {"datum": 0.00062}, "text": {"field": "r2"}}},
         {"data": {"name": "ann"}, "transform": [{"filter": "datum.p == 'G'"}], "mark": {"type": "text", "align": "left", "baseline": "middle", "fontSize": 8, "dx": 4, "dy": -4, "color": "#222222"},
          "encoding": {"x": {"datum": 0.0695}, "y": {"datum": 0.00062}, "text": {"field": "sig"}}}
       ]},
      {"width": 228, "height": 232,
       "layer": [
         {"data": {"name": "pts"}, "transform": [{"filter": "datum.p == 'H'"}],
          "mark": {"type": "point", "filled": true, "size": 170, "strokeWidth": 1.1, "opacity": 1},
          "encoding": {
            "x": {"field": "rgr", "type": "quantitative", "scale": {"domain": [0, 0.09], "nice": false}, "axis": {"values": [0, 0.03, 0.06, 0.09], "labelExpr": "datum.value == 0 ? '0' : format(datum.value, '.2f')", "title": null}},
            "y": {"field": "val", "type": "quantitative", "scale": {"domain": [0, 0.006], "nice": false}, "axis": {"values": [0, 0.002, 0.004, 0.006], "labelExpr": "datum.value == 0 ? '0' : format(datum.value, '.3f')", "title": null}},
            "shape": {"field": "N", "type": "nominal", "title": "RGR (g g⁻¹ d⁻¹)", "scale": {"domain": ["0 kg N ha⁻¹", "63 kg N ha⁻¹", "90 kg N ha⁻¹", "150 kg N ha⁻¹"], "range": ["circle", "circle", "triangle-up", "triangle-up"]}},
            "fill": {"field": "N", "type": "nominal", "title": "RGR (g g⁻¹ d⁻¹)", "scale": {"domain": ["0 kg N ha⁻¹", "63 kg N ha⁻¹", "90 kg N ha⁻¹", "150 kg N ha⁻¹"], "range": ["#ffffff", "#111111", "#ffffff", "#111111"]}},
            "stroke": {"field": "N", "type": "nominal", "title": "RGR (g g⁻¹ d⁻¹)", "scale": {"domain": ["0 kg N ha⁻¹", "63 kg N ha⁻¹", "90 kg N ha⁻¹", "150 kg N ha⁻¹"], "range": ["#111111", "#111111", "#111111", "#111111"]}}
          }},
         {"data": {"name": "fits"}, "transform": [{"filter": "datum.p == 'H'"}], "mark": {"type": "line", "color": "#111111", "strokeWidth": 1.8},
          "encoding": {"x": {"field": "rgr", "type": "quantitative"}, "y": {"field": "val", "type": "quantitative"}}},
         {"data": {"name": "ann"}, "transform": [{"filter": "datum.p == 'H'"}], "mark": {"type": "text", "align": "left", "baseline": "middle", "fontWeight": "bold", "fontSize": 18, "color": "#111111"},
          "encoding": {"x": {"datum": 0.0059}, "y": {"datum": 0.00543}, "text": {"field": "letter"}}},
         {"data": {"name": "ann"}, "transform": [{"filter": "datum.p == 'H'"}], "mark": {"type": "text", "align": "right", "baseline": "middle", "fontSize": 13.5, "color": "#222222"},
          "encoding": {"x": {"datum": 0.0797}, "y": {"datum": 0.00101}, "text": {"field": "eq"}}},
         {"data": {"name": "ann"}, "transform": [{"filter": "datum.p == 'H'"}], "mark": {"type": "text", "align": "right", "baseline": "middle", "fontSize": 13.5, "color": "#222222"},
          "encoding": {"x": {"datum": 0.0789}, "y": {"datum": 0.000595}, "text": {"field": "r2"}}},
         {"data": {"name": "ann"}, "transform": [{"filter": "datum.p == 'H'"}], "mark": {"type": "text", "align": "left", "baseline": "middle", "fontSize": 8, "dx": 4, "dy": -4, "color": "#222222"},
          "encoding": {"x": {"datum": 0.0789}, "y": {"datum": 0.000595}, "text": {"field": "sig"}}}
       ]}
    ]
  }
]
}
